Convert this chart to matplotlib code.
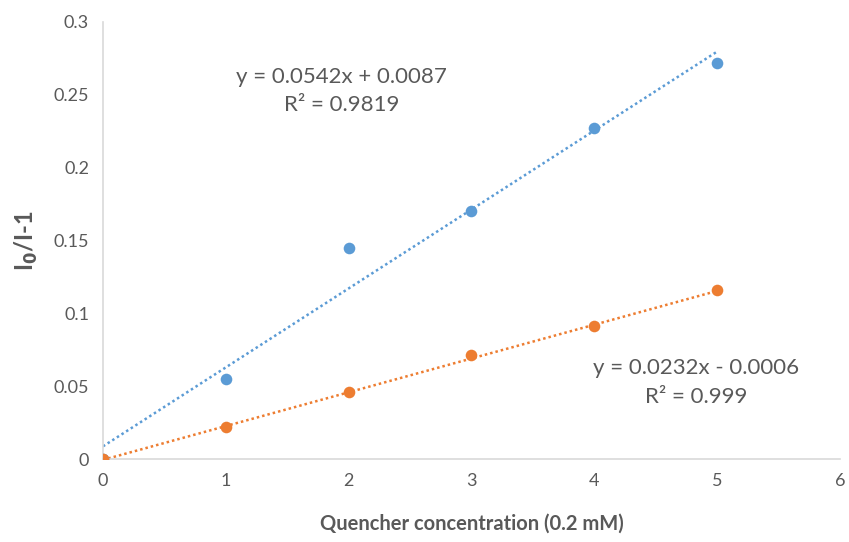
import matplotlib.pyplot as plt
import numpy as np

plt.rcParams['font.family'] = ['Lato', 'DejaVu Sans']

# data
conc = [0, 1, 2, 3, 4, 5]
series_a = [0.0, 0.055, 0.145, 0.170, 0.227, 0.272]
series_b = [0.0, 0.022, 0.046, 0.0714, 0.0913, 0.116]

# trendline equations shown on the chart
fit_a = (0.0542, 0.0087)
fit_b = (0.0232, -0.0006)
eq_a = "y = 0.0542x + 0.0087\nR² = 0.9819"
eq_b = "y = 0.0232x - 0.0006\nR² = 0.999"

BLUE = '#5B9BD5'
ORANGE = '#ED7D31'
GREY = '#595959'

fig = plt.figure(figsize=(8.49, 5.42), dpi=100)
ax = fig.add_axes([103 / 849, 1 - 459 / 542, (840 - 103) / 849, (459 - 22) / 542])

xs = np.array([0, 5])
for (m, b), col in [(fit_a, BLUE), (fit_b, ORANGE)]:
    ax.plot(xs, m * xs + b, ls=(0, (1, 1.2)), lw=1.8, color=col, zorder=2)

ax.scatter(conc, series_a, s=70, color=BLUE, zorder=3, linewidths=0)
ax.scatter(conc, series_b, s=70, color=ORANGE, zorder=4, linewidths=0)

ax.text(1.94, 0.2526, eq_a, ha='center', va='center', fontsize=16, color=GREY,
        linespacing=1.55, multialignment='center')
ax.text(4.83, 0.0525, eq_b, ha='center', va='center', fontsize=16, color=GREY,
        linespacing=1.55, multialignment='center')

ax.set_xlim(0, 6)
ax.set_ylim(0, 0.3)
ax.set_xticks(range(7))
ax.set_yticks([0, 0.05, 0.1, 0.15, 0.2, 0.25, 0.3])
ax.set_yticklabels(['0', '0.05', '0.1', '0.15', '0.2', '0.25', '0.3'])
ax.tick_params(length=0, labelsize=13, colors=GREY, pad=10)
for side in ['top', 'right']:
    ax.spines[side].set_visible(False)
for side in ['left', 'bottom']:
    ax.spines[side].set_color('#D9D9D9')
    ax.spines[side].set_linewidth(1.2)

ax.set_xlabel('Quencher concentration (0.2 mM)', fontsize=14.5, fontweight='bold',
              color=GREY, labelpad=18)
ax.set_ylabel('I$_\\mathbf{0}$/I-1', fontsize=17, fontweight='bold', color=GREY,
              labelpad=10)

fig.savefig('out.png', dpi=100)
